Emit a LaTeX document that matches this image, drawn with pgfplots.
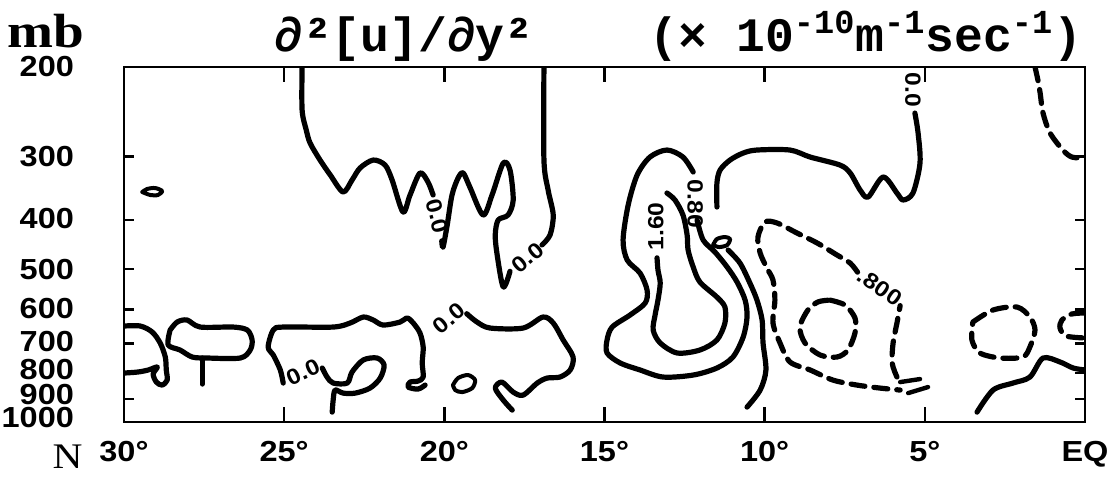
\documentclass[border=0pt]{standalone}
\usepackage{pgfplots}
\pgfplotsset{compat=1.18}
\usepackage{fontspec}
\newfontfamily\tickfont[FakeStretch=1.12]{Liberation Sans}
\newfontfamily\titlefont{Liberation Mono}
\newfontfamily\labserif[FakeStretch=1.15]{Liberation Serif}
\tikzset{
  cl/.style={black, line width=2.6pt, smooth, tension=0.5, line cap=round, line join=round},
  cd/.style={cl, dash pattern=on 7pt off 4.5pt},
  lab/.style={font=\tickfont\bfseries\fontsize{11}{11}\selectfont, inner sep=0pt},
}
\begin{document}
\begin{tikzpicture}[x=1pt,y=1pt]
\useasboundingbox (0,0) rectangle (557,243);
\begin{axis}[
  at={(62pt,32pt)}, anchor=south west,
  scale only axis, width=480.5pt, height=177.5pt,
  xmin=0, xmax=30, x dir=reverse,
  ymode=log, ymin=200, ymax=1000, y dir=reverse,
  xtick={30,25,20,15,10,5,0},
  xticklabels={30°,25°,20°,15°,10°,5°,EQ},
  ytick={200,300,400,500,600,700,800,900,1000},
  yticklabels={\raisebox{-1.5pt}{200},300,\raisebox{1.5pt}{400},500,\raisebox{0.5pt}{600},
    \raisebox{1.5pt}{700},\raisebox{3pt}{800},\raisebox{4pt}{900},\raisebox{4.5pt}{1000}},
  minor ytick={}, minor xtick={},
  tick align=inside,
  xtick style={/pgfplots/major tick length=7.5pt},
  ytick style={/pgfplots/major tick length=5pt},
  tick style={line width=1.2pt, black},
  axis line style={line width=1.3pt},
  ticklabel style={font=\tickfont\bfseries\fontsize{14.5}{15}\selectfont},
  yticklabel style={xshift=-21.5pt},
  xticklabel style={yshift=-6pt},
]
% ---- zero line, upper left (from the top at 24.4 N)
\addplot[cl] coordinates {
 (24.44,200) (24.44,243.0) (24.31,266.1) (24.19,282.3) (23.88,304.9) (23.56,326.3)
 (23.16,352.5) (22.88,333.8) (22.63,316.1) (22.22,304.9) (21.85,311.9) (21.63,333.8)
 (21.29,386.0) (21.07,357.3) (20.76,323.4) (20.51,336.9) (20.35,357.3)};
\addplot[cl] coordinates {
 (20.08,440) (20.04,452.4) (19.91,409.4) (19.76,357.3) (19.57,330.8) (19.41,323.4)
 (19.19,346.2) (18.79,391.3) (18.51,357.3) (18.16,309.1) (17.95,319.0) (17.85,365.5)
 (18.01,391.3) (18.32,400.2) (18.41,428.4) (18.35,469.1) (18.16,542.4) (17.95,505)};
\addplot[cl] coordinates {
 (16.95,448) (16.70,428.4) (16.60,391.3) (16.76,349.3) (16.89,304.9) (16.89,200)};
% small closed contour near 29 N
\addplot[cl, line width=2pt] coordinates {
 (29.43,352.5) (29.28,347.7) (29.03,346.2) (28.81,350.9) (28.94,357.3) (29.18,357.3) (29.43,352.5)};
% ---- low-level contours, west part
\addplot[cl] coordinates {
 (30,647.2) (29.49,647.2) (29.12,665) (28.87,699) (28.71,744.8) (28.68,790) (28.65,826.8)
 (28.81,845.8) (28.99,834.4) (29.09,804.5) (28.96,779.3) (29.24,790) (29.56,797.2) (30,800.9)};
\addplot[cl] coordinates {
 (28.56,659.1) (28.34,635.6) (28.03,629.8) (27.62,650.2) (26.59,650.2) (26.15,659.1)
 (26.00,689.5) (26.06,721.6) (26.37,748.2) (27.40,748.2) (27.87,744.8) (28.25,721.6)
 (28.62,705.3) (28.56,659.1)};
\addplot[cl] coordinates {(27.56,748.2) (27.56,842)};
\addplot[cl] coordinates {
 (25.03,838.1) (25.12,790) (25.34,738.1) (25.50,711.8) (25.34,659.1) (25.03,650.2)
 (23.47,650.2) (22.94,638.4) (22.53,621.3) (22.22,629.8) (21.91,644.3) (21.38,635.6)
 (21.16,624.1) (20.97,638.4) (20.76,667.9) (20.66,711.8) (20.69,765.3) (20.66,815.6)
 (20.82,830.6) (21.07,834.4) (21.13,853.5) (20.82,861.3) (20.60,845.8)};
\addplot[cl] coordinates {
 (23.81,782.9) (23.66,815.6) (23.47,838.1) (23.03,838.1) (22.88,797.2) (22.53,754.9)
 (22.10,748.2) (21.88,772.3) (22.00,819.3) (22.32,857.4) (22.78,877.2) (23.16,877.2)
 (23.41,865.2) (23.47,905.5) (23.50,956.2)};
\addplot[cl] coordinates {
 (19.30,612) (18.98,635.6) (18.57,653.1) (17.54,653.1) (16.92,621.3) (16.60,638.4)
 (16.29,689.5) (15.98,744.8) (16.07,790) (16.39,815.6) (16.79,819.3) (17.10,838.1)
 (17.54,885.2) (17.85,873.2) (18.20,834.4) (18.41,857.4) (18.16,905.5) (17.88,947.5)};
\addplot[cl, line width=2pt] coordinates {
 (19.73,845.8) (19.57,819.3) (19.26,808.2) (19.04,826.8) (19.13,857.4) (19.44,873.2)
 (19.66,865.2) (19.73,845.8)};
% ---- central positive centre
\addplot[cl] coordinates {
 (12.11,400.2) (11.92,438.2) (11.55,462.8) (11.17,495.4) (10.86,530.3) (10.61,575.4)
 (10.55,621.3) (10.67,680.2) (10.99,744.8) (11.49,782.9) (12.23,808.2) (13.17,815.6)
 (13.89,790) (14.51,765.3) (14.92,731.4) (14.92,689.5) (14.76,650.2) (14.20,615.6)
 (13.73,583.2) (13.67,549.9) (13.89,509.1) (14.29,479.9) (14.42,438.2) (14.26,373.9)
 (13.98,326.3) (13.58,300.8) (13.05,291.4) (12.55,300.8) (12.23,321.9)};
\addplot[cl] coordinates {
 (13.36,475) (13.33,502.2) (13.26,532.7) (13.33,575.4) (13.42,615.6) (13.48,659.1)
 (13.26,699) (12.73,731.4) (12.02,721.6) (11.49,689.5) (11.24,638.4) (11.24,593.8)
 (11.49,567.6) (12.02,530.3) (12.23,495.4) (12.39,458.6) (12.42,428.4) (12.55,391.3)
 (12.80,365.5) (13.05,354.1)};
\addplot[cl] coordinates {
 (11.14,458.6) (10.77,486.5) (10.46,532.7) (10.24,575.4) (10.08,629.8) (10.05,699)
 (9.96,790) (10.14,865.2) (10.55,934.7)};
\addplot[cl, line width=2pt] coordinates {
 (11.61,448.3) (11.49,436.2) (11.24,432.3) (11.08,436.2) (11.17,448.3) (11.42,452.4) (11.61,448.3)};
% ---- zero line reaching the top near 5 N
\addplot[cl] coordinates {
 (11.49,377.3) (11.49,338.4) (11.39,319.0) (11.08,304.9) (10.67,295.4) (10.24,291.4)
 (9.21,291.4) (8.58,300.8) (7.65,311.9) (7.33,323.4) (7.02,349.3) (6.77,360.6)
 (6.30,329.3) (5.87,354.1) (5.68,365.5) (5.37,354.1) (5.15,309.1) (5.21,269.8) (5.31,246.4)};
% ---- negative contours
\addplot[cd] coordinates {
 (1.56,200) (1.47,212.1) (1.40,225) (1.31,246.4) (1.09,269.8) (0.69,291.4) (0.41,300.8) (0,302.2)};
\addplot[cd] coordinates {
 (7.10,507) (7.33,486.5) (7.74,469.1) (8.36,444.2) (8.99,424.5) (9.61,405.7) (9.99,403.9)
 (10.21,432.3) (10.14,464.9) (9.93,497.6) (9.74,525.5) (9.68,575.4) (9.74,638.4)
 (9.52,699) (9.21,761.8) (8.58,790) (7.87,826.8) (7.12,845.8) (6.40,857.4) (5.77,865.2)};
\addplot[cd] coordinates {
 (5.87,815.6) (6.02,765.3) (5.99,699) (5.87,638.4) (5.77,590)};
\addplot[cl, line width=2.2pt] coordinates {(5.77,834.4) (5.15,823)};
\addplot[cl, line width=2.2pt] coordinates {(5.52,877.2) (4.90,853.5)};
\addplot[cd] coordinates {
 (7.96,575.4) (7.49,588.5) (7.18,624.1) (7.18,667.9) (7.40,721.6) (7.74,744.8)
 (8.27,738.1) (8.74,699) (8.90,650.2) (8.65,601.9) (8.33,580) (7.96,575.4)};
\addplot[cd] coordinates {
 (3.50,635.6) (2.87,601.9) (2.12,593.8) (1.72,621.3) (1.56,659.1) (1.72,711.8)
 (1.94,744.8) (2.65,748.2) (3.28,731.4) (3.53,689.5) (3.50,635.6)};
\addplot[cd] coordinates {
 (0,610.1) (0.41,612.8) (0.72,629.8) (0.78,653.1) (0.59,677.1) (0,683.3)};
% ---- zero line near the equator
\addplot[cl] coordinates {
 (3.37,956.2) (2.87,865.2) (2.25,838.1) (1.72,815.6) (1.31,748.2) (0.78,761.8) (0.37,782.9) (0,790)};
% ---- contour labels
\node[lab, rotate=-75] at (axis cs:20.22,393) {0.0};
\node[lab, rotate=40] at (axis cs:17.40,475) {0.0};
\node[lab, rotate=40] at (axis cs:19.85,625) {0.0};
\node[lab, rotate=25] at (axis cs:24.41,797.2) {0.0};
\node[lab, rotate=-90] at (axis cs:5.37,222) {0.0};
\node[lab, rotate=90] at (axis cs:13.40,412) {1.60};
\node[lab, rotate=-35] at (axis cs:6.40,542.4) {.800};
\node[lab, rotate=-90] at (axis cs:12.17,372) {0.80};
\end{axis}
\node[anchor=base, font=\labserif\bfseries\fontsize{24}{24}\selectfont] at (23,219) {mb};
\node[font=\labserif\fontsize{18}{18}\selectfont] at (33.75,14.5) {N};
\node[anchor=base, font=\titlefont\bfseries\fontsize{24}{24}\selectfont] at (202,217) {∂²[u]/∂y²};
\node[anchor=base, font=\titlefont\bfseries\fontsize{24}{24}\selectfont] at (433,217)
  {(× 10\textsuperscript{-10}m\textsuperscript{-1}sec\textsuperscript{-1})};
\end{tikzpicture}
\end{document}
